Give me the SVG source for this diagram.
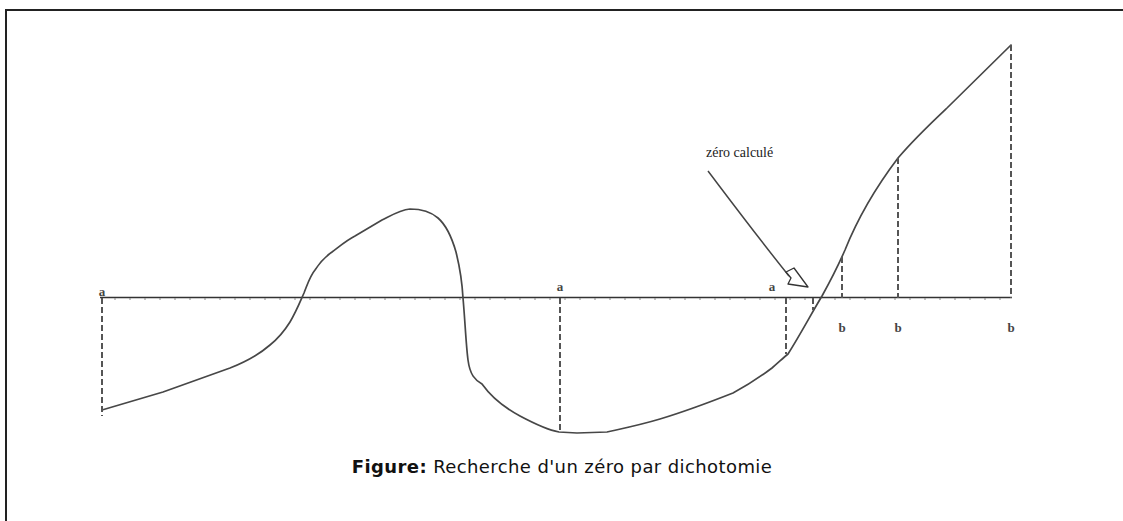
<svg xmlns="http://www.w3.org/2000/svg" width="1123" height="521" viewBox="0 0 1123 521">
<style>
.frame{fill:none;stroke:#222;stroke-width:2}
.axis{fill:none;stroke:#333;stroke-width:1.6}
.curve{fill:none;stroke:#474747;stroke-width:1.7;stroke-linejoin:round;stroke-linecap:round}
.dash{fill:none;stroke:#555;stroke-width:2;stroke-dasharray:6,3}
.lbl{font-family:"Liberation Serif",serif;font-size:13px;font-weight:bold;fill:#444;text-anchor:middle}
.note{font-family:"Liberation Serif",serif;font-size:14px;fill:#222}
.cap{font-family:"DejaVu Sans",Verdana,sans-serif;font-size:18px;fill:#111;letter-spacing:0.4px}
.arrowline{fill:none;stroke:#444;stroke-width:1.5}
.head{fill:#fff;stroke:#333;stroke-width:1.3;stroke-linejoin:round}
</style>
<rect class="frame" x="6" y="10" width="1140" height="540"/>
<g id="axis">
<line class="axis" x1="100" y1="297.5" x2="1012" y2="297.5"/>
<path d="M115 298v2M130 298v2M145 298v2M160 298v2M175 298v2M190 298v2M205 298v2M220 298v2M235 298v2M250 298v2M265 298v2M280 298v2M295 298v2M310 298v2M325 298v2M340 298v2M355 298v2M370 298v2M385 298v2M400 298v2M415 298v2M430 298v2M445 298v2M460 298v2M475 298v2M490 298v2M505 298v2M520 298v2M535 298v2M550 298v2M565 298v2M580 298v2M595 298v2M610 298v2M625 298v2M640 298v2M655 298v2M670 298v2M685 298v2M700 298v2M715 298v2M730 298v2M745 298v2M760 298v2M775 298v2M790 298v2M805 298v2M820 298v2M835 298v2M850 298v2M865 298v2M880 298v2M895 298v2M910 298v2M925 298v2M940 298v2M955 298v2M970 298v2M985 298v2M1000 298v2" stroke="#888" stroke-width="1"/>
</g>
<g id="curve">
<path class="curve" d="M102 410 L163 392 L230 368 C250 360 262 352 270 345 C280 337 285 330 290 322 C296 312 300 302 304 293 C308 283 310 276 315 270 C320 262 325 257 332 252 C340 246 347 240 355 236 C365 230 372 226 382 220 C392 215 400 210 410 209 C420 209 430 211 438 218 C446 225 452 238 456 252 C459 264 462 280 463 298 C465 320 466 345 468 360 C470 375 475 380 482 384 C492 398 505 408 520 416 C535 424 548 430 559 432 L577 433 L607 432 C625 428 640 425 660 419 C680 413 700 406 733 393 C750 384 760 377 772 368 C778 363 783 358 788 354 C800 335 810 316 822 296 C832 278 838 266 845 250 C855 225 870 195 898 158 C915 138 930 124 947 108 L1011 45"/>
</g>
<g id="dashes">
<line class="dash" x1="102" y1="298" x2="102" y2="416"/>
<line class="dash" x1="560" y1="298" x2="560" y2="432"/>
<line class="dash" x1="786" y1="298" x2="786" y2="354"/>
<line class="dash" x1="813" y1="298" x2="813" y2="310"/>
<line class="dash" x1="842" y1="257" x2="842" y2="298"/>
<line class="dash" x1="898" y1="158" x2="898" y2="298"/>
<line class="dash" x1="1011" y1="45" x2="1011" y2="298"/>
</g>
<g id="labels">
<text class="lbl" x="102" y="296">a</text>
<text class="lbl" x="560" y="291">a</text>
<text class="lbl" x="772" y="291">a</text>
<text class="lbl" x="842" y="332">b</text>
<text class="lbl" x="898" y="332">b</text>
<text class="lbl" x="1011" y="332">b</text>
</g>
<g id="annotation">
<text class="note" x="706" y="157">zéro calculé</text>
<path class="arrowline" d="M708 171 C730 200 760 240 789 276"/>
<polygon class="head" points="786,272 794,268 808,287 788,284 791,278"/>
</g>
<text class="cap" x="562" y="473" text-anchor="middle"><tspan font-weight="bold">Figure:</tspan> Recherche d'un zéro par dichotomie</text>
</svg>
